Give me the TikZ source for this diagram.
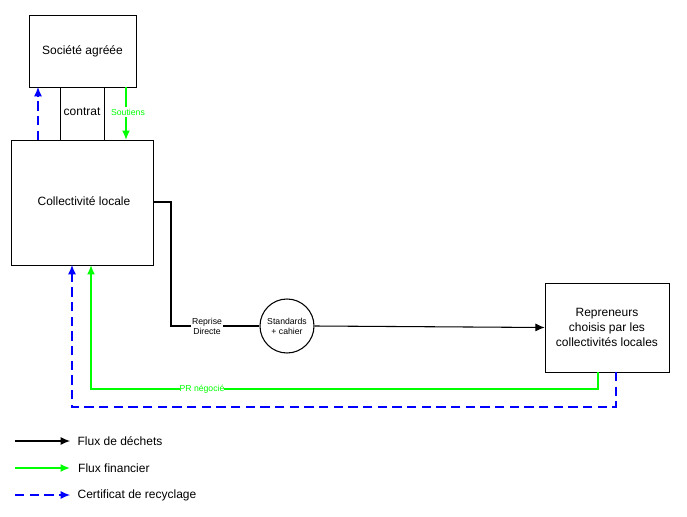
\documentclass[tikz,border=0pt]{standalone}
\usepackage{fontspec}
\setmainfont{Liberation Sans}
\usetikzlibrary{arrows.meta,positioning}
\definecolor{vert}{RGB}{0,255,0}
\begin{document}
\begin{tikzpicture}[x=0.75pt,y=-0.75pt, thick]

		\tikzstyle{boite}=[rectangle, thin, draw, inner sep=0pt, font=\fontsize{9}{11}\selectfont]
		\tikzstyle{flux}=[-{Latex[length=7pt,width=6pt]}, black]
		\tikzstyle{fin}=[-{Latex[length=7pt,width=6pt]}, vert, line width=1.6pt]
		\tikzstyle{certif}=[-{Latex[length=7pt,width=6pt]}, blue, dashed, dash pattern=on 7pt off 4pt]
		\tikzstyle{petit}=[font=\fontsize{6.5}{7.5}\selectfont, inner sep=1pt]
		\tikzstyle{leg}=[anchor=west, font=\fontsize{9}{11}\selectfont]

		\useasboundingbox (0,0) rectangle (687,517);

		\node[boite, minimum width=80.25pt, minimum height=54pt] (soc) at (82.5,51) {Société agréée};
		\node[boite, minimum width=106.5pt, minimum height=93.75pt] (coll) at (82,202.5) {};
		\node[font=\fontsize{9}{11}\selectfont] at (84,201) {Collectivité locale};
		\node[boite, minimum width=93pt, minimum height=66.75pt, align=center] (rep) at (607,327.5)
		    {Repreneurs\\choisis par les\\collectivités locales};
		\node[circle, draw, minimum size=40.5pt, inner sep=0pt, align=center, petit] (std) at (287,326)
		    {Standards\\+ cahier};

		% contrat
		\draw[thin] (60,87) -- (60,140);
		\draw[thin] (104,87) -- (104,140);
		\node[font=\fontsize{9}{11}\selectfont] (contrat) at (82,112) {contrat};
		\draw[fin] (126,87) -- (126,140);
		\node[petit, text=vert, fill=white] (sout) at (128,112) {Soutiens};
		\draw[certif] (38,140) -- (38,87);

		% flux de dechets
		\coordinate (c1) at (153,202);
		\coordinate (c2) at (171,326);
		\draw[thick] (c1) -- (c1 -| c2) -- (c2) -- (std.west);
		\node[petit, fill=white, align=center] (reprise) at (207,326) {Reprise\\Directe};
		\draw[flux] (std.east) -- (rep.west);

		% retours
		\draw[fin] (598,372) -- (598,389) -- (91,389) -- (91,265);
		\node[petit, text=vert, fill=white, inner sep=0pt] (pr) at (202,389) {PR négocié};
		\draw[certif] (616,372) -- (616,407) -- (72,407) -- (72,265);

		% legende
		\coordinate (l1) at (15,441);
		\coordinate (l2) at (15,468);
		\coordinate (l3) at (15,495);
		\draw[flux] (l1) -- ++(55,0) node[leg, black, xshift=2pt] {Flux de déchets};
		\draw[fin] (l2) -- ++(55,0) node[leg, black, xshift=2pt] {Flux financier};
		\draw[certif] (l3) -- ++(55,0) node[leg, black, xshift=2pt] {Certificat de recyclage};
\end{tikzpicture}
\end{document}
